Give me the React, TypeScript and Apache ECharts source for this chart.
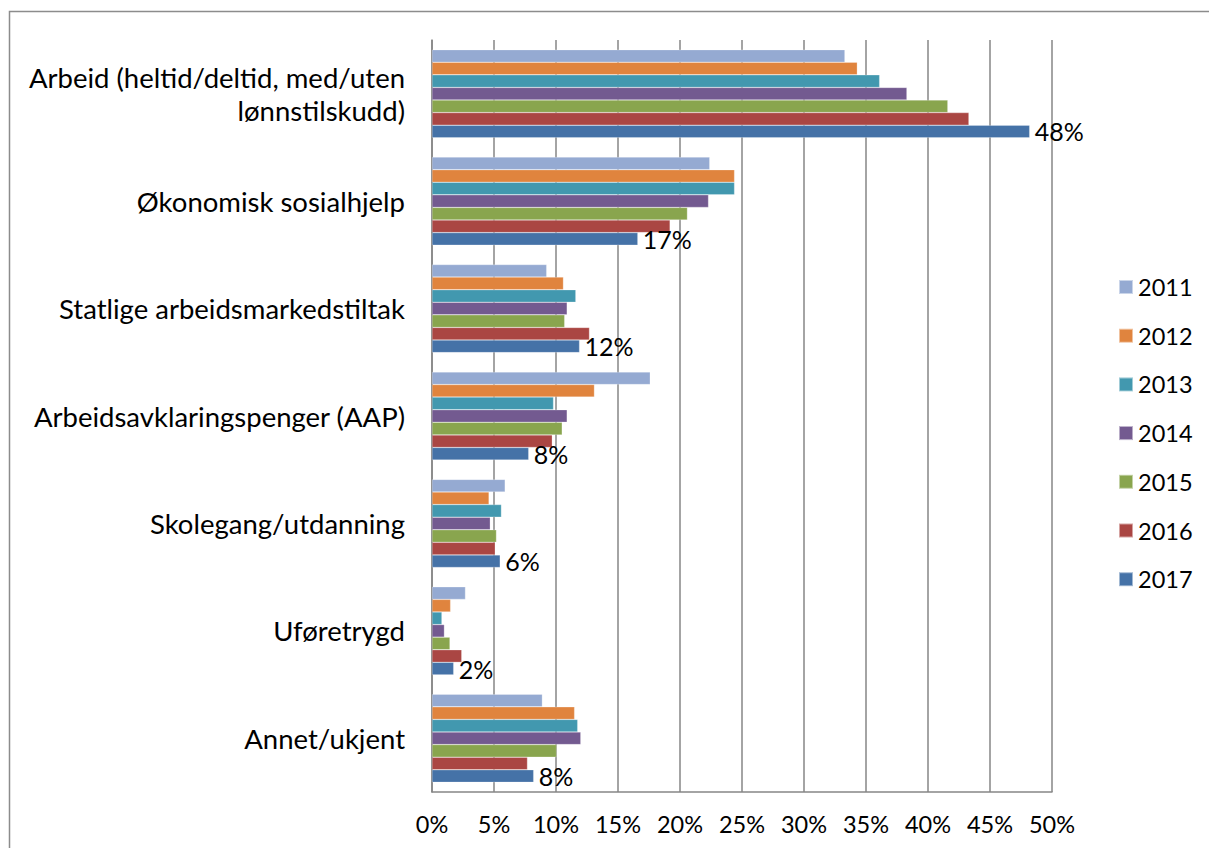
import React, { useEffect, useRef } from "react";
import * as echarts from "echarts";

const categories = [
  "Arbeid (heltid/deltid, med/uten\nlønnstilskudd)",
  "Økonomisk sosialhjelp",
  "Statlige arbeidsmarkedstiltak",
  "Arbeidsavklaringspenger (AAP)",
  "Skolegang/utdanning",
  "Uføretrygd",
  "Annet/ukjent",
];

const years = ["2011", "2012", "2013", "2014", "2015", "2016", "2017"];

const v2011 = [33.3, 22.4, 9.25, 17.6, 5.9, 2.7, 8.9];
const v2012 = [34.3, 24.4, 10.6, 13.1, 4.6, 1.5, 11.5];
const v2013 = [36.1, 24.4, 11.6, 9.8, 5.6, 0.8, 11.75];
const v2014 = [38.3, 22.3, 10.9, 10.9, 4.7, 1.0, 12.0];
const v2015 = [41.6, 20.6, 10.7, 10.5, 5.2, 1.45, 10.05];
const v2016 = [43.3, 19.2, 12.7, 9.7, 5.1, 2.4, 7.7];
const v2017 = [48.2, 16.6, 11.9, 7.8, 5.5, 1.75, 8.2];

const seriesValues = [v2011, v2012, v2013, v2014, v2015, v2016, v2017];
const colors = ["#95AAD2", "#E0843E", "#4298AF", "#735A90", "#89A54E", "#AA4643", "#4572A7"];

const xTicks = [0, 5, 10, 15, 20, 25, 30, 35, 40, 45, 50];

const FONT = "Lato, 'Open Sans', sans-serif";

export default function App() {
  const ref = useRef<HTMLDivElement>(null);
  useEffect(() => {
    if (!ref.current) return;
    const chart = echarts.init(ref.current, undefined, { renderer: "svg" });
    chart.setOption({
      animation: false,
      backgroundColor: "#ffffff",
      textStyle: { fontFamily: FONT },
      graphic: [
        {
          type: "rect",
          shape: { x: 9.5, y: 11.5, width: 1300, height: 900 },
          style: { fill: "none", stroke: "#8c8c8c", lineWidth: 1.5 },
          silent: true,
        },
      ],
      grid: { left: 432, right: 157, top: 40, bottom: 56, containLabel: false },
      legend: {
        orient: "vertical",
        left: 1113,
        top: 270,
        itemWidth: 14,
        itemHeight: 14,
        itemGap: 24.7,
        icon: "rect",
        data: years,
        textStyle: { fontSize: 23.5, color: "#000", fontFamily: FONT, lineHeight: 22 },
      },
      xAxis: {
        type: "value",
        min: xTicks[0],
        max: xTicks[xTicks.length - 1],
        interval: 5,
        axisLine: { show: true, lineStyle: { color: "#868686", width: 1.5 } },
        axisTick: { show: false },
        splitLine: { show: true, lineStyle: { color: "#868686", width: 1.5 } },
        axisLabel: { formatter: (v: number) => `${v}%`, fontSize: 23.5, color: "#000", margin: 20, fontFamily: FONT },
      },
      yAxis: {
        type: "category",
        inverse: true,
        data: categories,
        axisLine: { show: true, lineStyle: { color: "#868686", width: 1.5 } },
        axisTick: { show: false },
        axisLabel: { fontSize: 27.5, color: "#000", margin: 27, lineHeight: 33, align: "right", fontFamily: FONT },
      },
      series: years.map((y, i) => ({
        name: y,
        type: "bar",
        data: seriesValues[i],
        barGap: "0%",
        barCategoryGap: "18%",
        itemStyle: { color: colors[i], borderColor: "rgba(255,255,255,0.5)", borderWidth: 0.5 },
        label:
          i === years.length - 1
            ? {
                show: true,
                position: "right",
                distance: 5,
                formatter: (p: any) => `${Math.round(p.value)}%`,
                fontSize: 25,
                color: "#000",
                fontFamily: FONT,
              }
            : { show: false },
      })),
    });
    return () => chart.dispose();
  }, []);
  return (
    <div
      ref={ref}
      style={{ position: "fixed", left: 0, top: 0, width: 1209, height: 848, background: "#fff" }}
    />
  );
}
